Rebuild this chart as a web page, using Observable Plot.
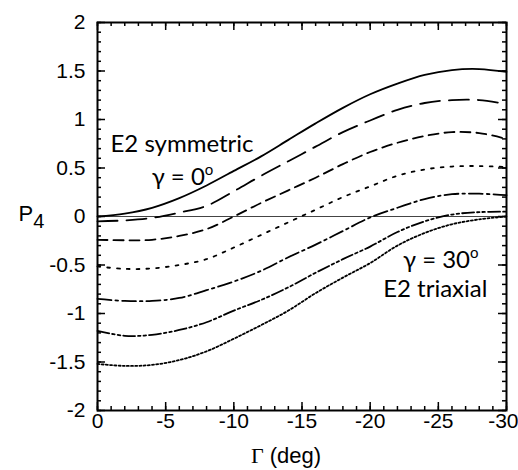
<!DOCTYPE html>
<html><head><meta charset="utf-8">
<script src="https://cdn.jsdelivr.net/npm/d3@7"></script>
<script src="https://cdn.jsdelivr.net/npm/@observablehq/plot@0.6"></script>
<style>body{margin:0;background:#fff} svg{display:block}</style>
</head><body><div id="chart"></div>
<script>
// Γ (deg) sample positions
const gammaDeg = [0,-2,-4,-6,-8,-10,-12,-14,-16,-18,-20,-22,-24,-26,-28,-30];
// P4 curves, from γ = 0° (top, solid) to γ = 30° (bottom)
const p4Gamma0  = [0,0.03,0.09,0.19,0.32,0.47,0.62,0.79,0.96,1.12,1.26,1.37,1.46,1.51,1.52,1.49];
const p4Gamma5  = [-0.05,-0.04,-0.015,0.04,0.11,0.26,0.42,0.57,0.72,0.87,0.99,1.10,1.17,1.20,1.20,1.16];
const p4Gamma10 = [-0.24,-0.245,-0.24,-0.2,-0.13,0.0,0.14,0.27,0.40,0.54,0.665,0.76,0.83,0.87,0.86,0.80];
const p4Gamma15 = [-0.515,-0.54,-0.535,-0.5,-0.44,-0.32,-0.19,-0.06,0.07,0.2,0.31,0.42,0.485,0.515,0.52,0.51];
const p4Gamma20 = [-0.85,-0.87,-0.87,-0.84,-0.76,-0.67,-0.56,-0.42,-0.29,-0.15,-0.01,0.09,0.18,0.23,0.235,0.22];
const p4Gamma25 = [-1.18,-1.23,-1.22,-1.17,-1.09,-0.97,-0.86,-0.73,-0.58,-0.44,-0.31,-0.16,-0.05,0.02,0.045,0.05];
const p4Gamma30 = [-1.52,-1.54,-1.53,-1.48,-1.39,-1.26,-1.12,-0.97,-0.79,-0.63,-0.48,-0.30,-0.17,-0.08,-0.03,0.0];

const xMajor = [0,-5,-10,-15,-20,-25,-30];
const xMinor = d3.range(0,-31,-1);
const yMajor = [-2,-1.5,-1,-0.5,0,0.5,1,1.5,2];
const yMinor = d3.range(-20,21,1).map(v => v/10);

const annotations = [
  {text: "E2 symmetric", x: -0.95, y: 0.67, anchor: "start"},
  {text: "γ = 0°", x: -8.5, y: 0.32, anchor: "end"},
  {text: "γ = 30°", x: -27.95, y: -0.526, anchor: "end"},
  {text: "E2 triaxial", x: -28.6, y: -0.825, anchor: "end"}
];
const xLabel = "Γ (deg)";
const yLabel = "P4";

const allSeries = [p4Gamma0, p4Gamma5, p4Gamma10, p4Gamma15, p4Gamma20, p4Gamma25, p4Gamma30];
const dashes = [null, "20,9", "10,6", "2.8,7", "14,4,2.5,4", "12,3,2.5,3,2.5,3", "2,2.2"];

const W = 518, H = 470, ML = 97, MR = 12, MT = 22, MB = 60;
const FW = W - ML - MR, FH = H - MT - MB;
const xMin = 0, xMax = -30, yMin = -2, yMax = 2;

const lineMarks = allSeries.map((vals, i) => Plot.line(
  gammaDeg.map((g, j) => ({g, p: vals[j]})),
  {x: "g", y: "p", curve: "catmull-rom", stroke: "black", strokeWidth: 1.8, strokeDasharray: dashes[i]}
));

// inward ticks on all four sides, lengths converted from pixels to data units
const toDy = px => px * (yMax - yMin) / FH;
const toDx = px => px * (xMax - xMin) / FW;
const tk = {stroke: "black", strokeWidth: 1.5};
const tickMarks = [
  Plot.ruleX(xMinor, {...tk, x: d => d, y1: yMin, y2: yMin + toDy(4)}),
  Plot.ruleX(xMajor, {...tk, x: d => d, y1: yMin, y2: yMin + toDy(8)}),
  Plot.ruleX(xMinor, {...tk, x: d => d, y1: yMax, y2: yMax - toDy(4)}),
  Plot.ruleX(xMajor, {...tk, x: d => d, y1: yMax, y2: yMax - toDy(8)}),
  Plot.ruleY(yMinor, {...tk, y: d => d, x1: xMin, x2: xMin + toDx(4)}),
  Plot.ruleY(yMajor, {...tk, y: d => d, x1: xMin, x2: xMin + toDx(8)}),
  Plot.ruleY(yMinor, {...tk, y: d => d, x1: xMax, x2: xMax - toDx(4)}),
  Plot.ruleY(yMajor, {...tk, y: d => d, x1: xMax, x2: xMax - toDx(8)})
];

const annoFont = {fontFamily: "Lato, 'Open Sans', sans-serif", fontSize: 24, lineAnchor: "bottom", fill: "black"};

const plot = Plot.plot({
  width: W, height: H,
  marginLeft: ML, marginRight: MR, marginTop: MT, marginBottom: MB,
  x: {domain: [xMin, xMax], label: null},
  y: {domain: [yMin, yMax], label: null},
  style: {fontFamily: "'Liberation Sans', Arial, sans-serif", fontSize: "21px", background: "white", color: "black"},
  marks: [
    Plot.ruleY([0], {stroke: "#444", strokeWidth: 1}),
    ...lineMarks,
    ...tickMarks,
    Plot.axisX({anchor: "bottom", ticks: xMajor, tickSize: 0, tickPadding: 3, tickFormat: d => String(d), fontSize: 21, label: null}),
    Plot.axisY({anchor: "left", ticks: yMajor, tickSize: 0, tickPadding: 12, tickFormat: d => String(d), fontSize: 21, label: null}),
    Plot.frame({stroke: "black", strokeWidth: 2}),
    Plot.text(annotations.filter(a => a.anchor === "start"), {x: "x", y: "y", text: "text", textAnchor: "start", ...annoFont}),
    Plot.text(annotations.filter(a => a.anchor === "end"), {x: "x", y: "y", text: "text", textAnchor: "end", ...annoFont}),
    Plot.text([xLabel], {text: d => d, frameAnchor: "bottom", dx: -16, dy: 52, lineAnchor: "bottom", fontSize: 22, fill: "black"}),
    Plot.text([yLabel], {text: d => d, frameAnchor: "left", dx: -79, dy: 4, textAnchor: "start", lineAnchor: "bottom", fontSize: 22, fill: "black"})
  ]
});

const NS = "http://www.w3.org/2000/svg";
plot.querySelectorAll("text").forEach(el => {
  const t = el.textContent;
  if (el.querySelector("tspan")) return;
  if (t.endsWith("°")) {
    el.textContent = t.slice(0, -1);
    const s = document.createElementNS(NS, "tspan");
    s.setAttribute("dy", "-10"); s.setAttribute("font-size", "15");
    s.textContent = "o"; el.appendChild(s);
  } else if (t === yLabel) {
    el.textContent = "P";
    const s = document.createElementNS(NS, "tspan");
    s.setAttribute("dy", "7"); s.setAttribute("font-size", "20");
    s.textContent = "4"; el.appendChild(s);
  } else if (t === xLabel) {
    el.textContent = "";
    const a = document.createElementNS(NS, "tspan");
    a.setAttribute("font-family", "'Liberation Serif', serif");
    a.textContent = "Γ"; el.appendChild(a);
    const b = document.createElementNS(NS, "tspan");
    b.textContent = " (deg)"; el.appendChild(b);
  } else if (t === "-30") {
    el.setAttribute("text-anchor", "end");
    el.setAttribute("dx", "12");
  }
});
document.getElementById("chart").appendChild(plot);
</script>
</body></html>
